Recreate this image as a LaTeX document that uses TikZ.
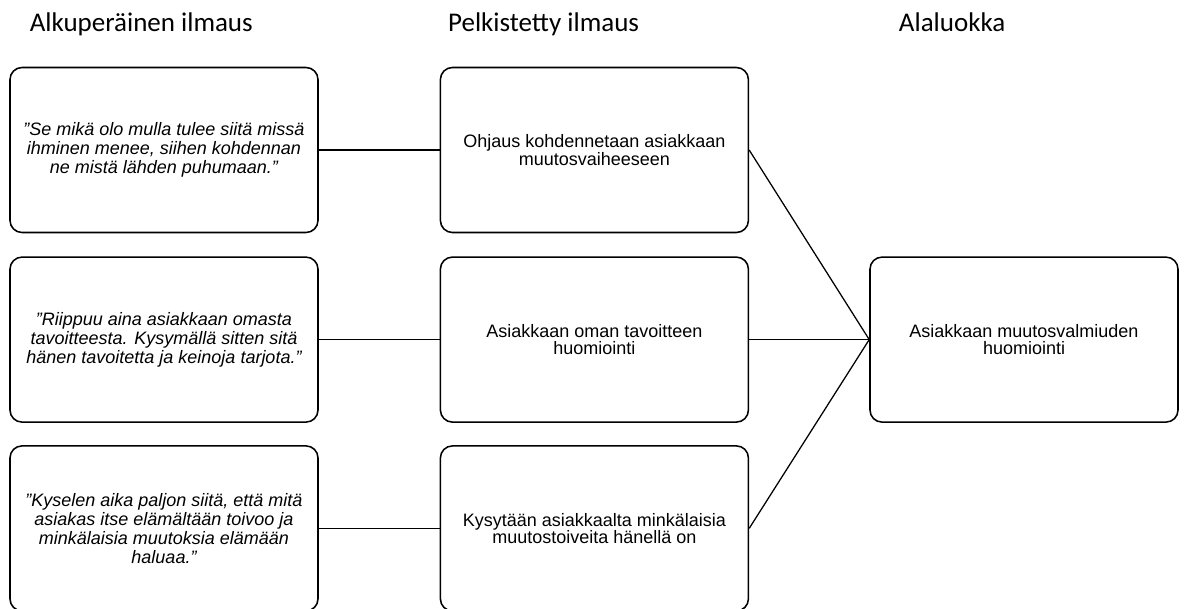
\documentclass[tikz,border=0pt]{standalone}
\usepackage{fontspec}
\setmainfont{Liberation Sans}
\newfontfamily\headfont{Carlito}
\usetikzlibrary{positioning}

\begin{document}
\begin{tikzpicture}[
    % Styles
    quotebox/.style={rectangle, rounded corners=0.3cm, draw=black, line width=1.1pt, minimum width=7.7cm, minimum height=4.125cm, align=center, font=\fontsize{12.8}{13.5}\selectfont\itshape},
    plainbox/.style={rectangle, rounded corners=0.3cm, draw=black, line width=1.1pt, minimum width=7.7cm, minimum height=4.125cm, align=center, font=\fontsize{12.8}{12.3}\selectfont},
    heading/.style={anchor=base west, font=\headfont\fontsize{19.2}{23}\selectfont},
    conn/.style={line width=0.9pt}
]
    \useasboundingbox (0,0) rectangle (29.6,15.2);

    % --- Column headings ---
    \node[heading] (h1) at (0.62, 14.4) {Alkuperäinen ilmaus};
    \node[heading] (h2) at (11.08, 14.4) {Pelkistetty ilmaus};
    \node[heading] (h3) at (22.35, 14.4) {Alaluokka};

    % Original expressions
    \node[quotebox] (q1) at (4.1, 11.45) {”Se mikä olo mulla tulee siitä missä\\ihminen menee, siihen kohdennan\\ne mistä lähden puhumaan.”};
    \node[quotebox] (q2) at (4.1, 6.71) {”Riippuu aina asiakkaan omasta\\tavoitteesta. Kysymällä sitten sitä\\hänen tavoitetta ja keinoja tarjota.”};
    \node[quotebox] (q3) at (4.1, 1.99) {”Kyselen aika paljon siitä, että mitä\\asiakas itse elämältään toivoo ja\\minkälaisia muutoksia elämään\\haluaa.”};

    % Reduced expressions
    \node[plainbox] (r1) at (14.86, 11.45) {Ohjaus kohdennetaan asiakkaan\\muutosvaiheeseen};
    \node[plainbox] (r2) at (14.86, 6.71) {Asiakkaan oman tavoitteen\\huomiointi};
    \node[plainbox] (r3) at (14.86, 1.99) {Kysytään asiakkaalta minkälaisia\\muutostoiveita hänellä on};

    % Subcategory
    \node[plainbox] (sub) at (25.6, 6.71) {Asiakkaan muutosvalmiuden\\huomiointi};

    % Connections
    \draw[conn] (q1.east) -- (r1.west);
    \draw[conn] (q2.east) -- (r2.west);
    \draw[conn] (q3.east) -- (r3.west);
    \draw[conn] (r1.east) -- (sub.west);
    \draw[conn] (r2.east) -- (sub.west);
    \draw[conn] (r3.east) -- (sub.west);

\end{tikzpicture}
\end{document}
